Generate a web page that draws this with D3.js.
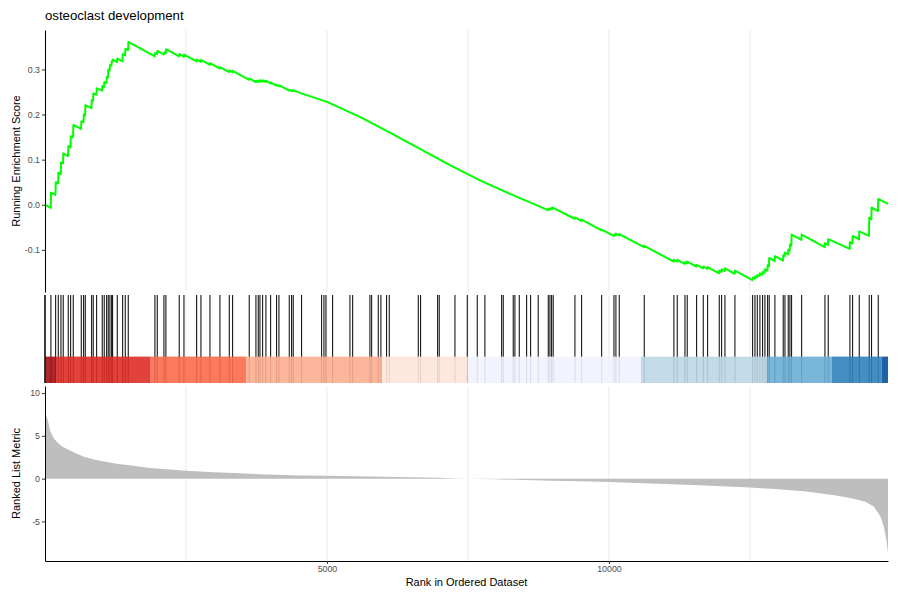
<!DOCTYPE html>
<html><head><meta charset="utf-8">
<script src="https://cdn.jsdelivr.net/npm/d3@7"></script>
<style>
body{margin:0;background:#fff}
svg{display:block}
text{font-family:"Liberation Sans",Arial,Helvetica,sans-serif}
</style>
</head><body>
<svg id="chart" width="900" height="600"></svg>
<script>
// ---------------- data ----------------
const chartTitle = "osteoclast development";
const yTitleTop = "Running Enrichment Score";
const yTitleBottom = "Ranked List Metric";
const xTitle = "Rank in Ordered Dataset";
const nGenes = 14948;

const xTickValues = [5000, 10000];
const xMinorGrid = [2500, 7500, 12500];
const esTickValues = [-0.1, 0.0, 0.1, 0.2, 0.3];
const metricTickValues = [-5, 0, 5, 10];

// running enrichment score (rank, value)
const esRank = [0,104,108,186,192,233,238,281,286,321,326,410,415,453,458,499,504,640,646,683,689,712,717,825,830,853,858,914,919,1013,1018,1048,1053,1091,1096,1119,1124,1149,1154,1180,1185,1197,1202,1279,1284,1375,1380,1421,1426,1474,1479,
  1948,1952,1989,1993,2108,2112,2143,2147,2379,2383,2463,2467,2688,2692,2764,2768,2924,2928,3101,3105,3266,3270,3326,3330,3620,3624,3739,3743,3780,3784,3810,3814,3858,3862,3916,3920,4000,4004,4106,4110,4147,4151,4330,4334,4372,4376,4400,4404,4521,
  5000,5585,6117,6649,7181,7713,8245,8777,8918,8924,8950,8956,8989,8993,9393,9397,9512,9516,9867,9871,10085,10089,10120,10124,10179,10183,10622,10626,
  11148,11152,11207,11211,11344,11348,11384,11388,11551,11555,11668,11672,11746,11750,11952,11956,11994,11998,12053,12057,12230,12234,12544,12548,12585,12589,12626,12630,12673,12677,12721,12725,12762,12766,12810,12814,12838,12842,12939,12943,
  13086,13090,13117,13121,13175,13179,13205,13209,13235,13239,13413,13417,13826,13830,13884,13888,14269,14273,14317,14321,14434,14438,14611,14615,14653,14657,14771,14775,14948];
const esValue = [0,-0.007,0.027,0.022,0.05,0.047,0.071,0.068,0.094,0.092,0.114,0.108,0.13,0.127,0.152,0.15,0.177,0.168,0.185,0.183,0.2,0.198,0.221,0.214,0.232,0.23,0.247,0.244,0.258,0.253,0.263,0.261,0.272,0.27,0.283,0.282,0.3,0.298,0.31,0.309,0.318,0.317,0.322,0.316,0.324,0.318,0.334,0.331,0.346,0.343,0.361,
  0.329,0.336,0.334,0.341,0.333,0.338,0.336,0.345,0.329,0.334,0.328,0.333,0.318,0.322,0.317,0.321,0.310,0.314,0.302,0.305,0.294,0.298,0.294,0.297,0.277,0.280,0.272,0.275,0.272,0.275,0.273,0.276,0.273,0.276,0.272,0.275,0.269,0.271,0.264,0.266,0.263,0.265,0.253,0.255,0.252,0.254,0.252,0.254,0.248,
  0.228,0.195,0.16,0.124,0.088,0.054,0.024,-0.004,-0.012,-0.009,-0.011,-0.008,-0.010,-0.006,-0.031,-0.028,-0.036,-0.033,-0.057,-0.055,-0.069,-0.066,-0.068,-0.064,-0.068,-0.065,-0.094,-0.091,
  -0.126,-0.122,-0.126,-0.122,-0.131,-0.127,-0.130,-0.126,-0.137,-0.133,-0.141,-0.137,-0.142,-0.138,-0.152,-0.146,-0.149,-0.143,-0.147,-0.141,-0.153,-0.146,-0.167,-0.162,-0.164,-0.159,-0.161,-0.156,-0.158,-0.152,-0.155,-0.149,-0.151,-0.143,-0.146,-0.134,-0.136,-0.118,-0.125,-0.114,
  -0.124,-0.112,-0.114,-0.106,-0.110,-0.100,-0.102,-0.088,-0.090,-0.066,-0.078,-0.066,-0.094,-0.085,-0.089,-0.076,-0.098,-0.083,-0.086,-0.069,-0.077,-0.059,-0.069,-0.029,-0.032,-0.006,-0.014,0.013,0.002];

// ranks of gene-set members (rug)
const hitRanks = [1,106,190,236,284,324,413,456,502,644,686,715,828,856,917,1016,1051,1094,1122,1152,1183,1200,1282,1378,1424,1477,1950,1991,2110,2145,2381,2465,2690,2766,2926,3103,3268,3328,3622,3741,3782,3812,3860,3918,4002,4108,4149,4332,4374,4402,4551,4906,4947,4982,5101,5408,5456,5762,5793,5910,5957,6058,6105,6619,6661,6963,6991,7270,7488,7665,7801,8098,8126,8303,8333,8410,8541,8612,8746,8924,8954,8984,9012,9397,9516,9871,10089,10124,10183,10626,11152,11211,11348,11388,11555,11672,11750,11956,11998,12057,12234,12548,12589,12630,12677,12725,12766,12814,12842,12943,13090,13121,13179,13209,13239,13417,13830,13888,14273,14321,14438,14615,14657,14775];

// colour band segments
const bandStart = [1,190,1875,3564,5970,7488,10567,12796,13948,14835];
const bandEnd   = [190,1875,3564,5970,7488,10567,12796,13948,14835,14948];
const bandColor = ["#A50F15","#DE2D26","#FB6A4A","#FCAE91","#FEE5D9","#EFF3FF","#BDD7E7","#6BAED6","#3182BD","#08519C"];

// ranked list metric (rank, value)
const metricRank = [1,15,60,90,150,207,300,384,500,680,800,975,1271,1566,1862,2158,2500,3000,3337,3800,4220,4521,5000,5500,6000,6500,7000,7300,7500,8000,8500,9000,9500,10000,10500,11000,11500,12000,12500,13000,13500,14000,14300,14550,14700,14820,14880,14920,14948];
const metricValue = [9.9,7.6,6.6,5.6,4.8,4.3,3.8,3.5,3.1,2.6,2.35,2.1,1.75,1.5,1.25,1.1,0.92,0.75,0.65,0.52,0.43,0.38,0.33,0.27,0.22,0.16,0.09,0.03,0.0,-0.08,-0.16,-0.24,-0.31,-0.39,-0.5,-0.62,-0.75,-0.9,-1.05,-1.25,-1.5,-1.93,-2.3,-2.7,-3.3,-4.5,-5.8,-7.2,-8.7];

// ---------------- drawing ----------------
const svg = d3.select("#chart");
const L = 45, R = 888;
const top1 = 30, bot1 = 292;     // running score panel
const top2 = 295, bot2 = 383;    // rug + band panel
const top3 = 386, bot3 = 561;    // ranked metric panel

const tickColor = "#333333", labelColor = "#4D4D4D", gridColor = "#EBEBEB";

const x = d3.scaleLinear().domain([1, nGenes]).range([L, R]);

function padded(vals){
  const lo = d3.min(vals), hi = d3.max(vals), r = hi - lo;
  return [lo - 0.05*r, hi + 0.05*r];
}
const yES = d3.scaleLinear().domain(padded(esValue)).range([bot1, top1]);
const yM = d3.scaleLinear().domain(padded(metricValue)).range([bot3, top3]);
const yRug = d3.scaleLinear().domain([0, 1]).range([bot2, top2]);

const gridVals = xTickValues.concat(xMinorGrid);
function grid(y0, y1){
  svg.append("g").selectAll("line").data(gridVals).join("line")
    .attr("x1", d => x(d)).attr("x2", d => x(d))
    .attr("y1", y0).attr("y2", y1)
    .attr("stroke", gridColor).attr("stroke-width", 1);
}
grid(top1, bot1); grid(top2, bot2); grid(top3, bot3);

// running ES line
const esData = esRank.map((r, i) => ({r, v: esValue[i]}));
svg.append("path").datum(esData)
  .attr("fill", "none").attr("stroke", "#00FF00").attr("stroke-width", 2)
  .attr("stroke-linejoin", "round")
  .attr("d", d3.line().x(d => x(d.r)).y(d => yES(d.v)));

// rug
svg.append("g").selectAll("line").data(hitRanks).join("line")
  .attr("x1", d => x(d)).attr("x2", d => x(d))
  .attr("y1", yRug(0)).attr("y2", yRug(1))
  .attr("stroke", "#000").attr("stroke-width", 1);

// colour band
const bandData = bandStart.map((s, i) => ({s, e: bandEnd[i], c: bandColor[i]}));
svg.append("g").selectAll("rect").data(bandData).join("rect")
  .attr("x", d => x(d.s)).attr("width", d => x(d.e) - x(d.s))
  .attr("y", yRug(0.3)).attr("height", yRug(0) - yRug(0.3))
  .attr("fill", d => d.c).attr("fill-opacity", 0.9);

// ranked list metric area
const mData = metricRank.map((r, i) => ({r, v: metricValue[i]}));
svg.append("path").datum(mData)
  .attr("fill", "#BEBEBE")
  .attr("d", d3.area().x(d => x(d.r)).y0(yM(0)).y1(d => yM(d.v)));

// axes
function styleAxis(g){
  g.select(".domain").attr("stroke", "#000").attr("stroke-width", 1.05);
  g.selectAll(".tick line").attr("stroke", tickColor).attr("stroke-width", 1);
  g.selectAll(".tick text").attr("fill", labelColor).style("font-size", "8.8px")
    .style("font-family", '"Liberation Sans",Arial,sans-serif');
}
svg.append("g").attr("transform", `translate(${L},0)`)
  .call(d3.axisLeft(yES).tickValues(esTickValues).tickFormat(d => d.toFixed(1))
    .tickSizeInner(3).tickSizeOuter(0).tickPadding(2))
  .call(styleAxis);

// rug panel left axis line
svg.append("line").attr("x1", L).attr("x2", L).attr("y1", top2).attr("y2", bot2)
  .attr("stroke", "#000").attr("stroke-width", 1.05);

svg.append("g").attr("transform", `translate(${L},0)`)
  .call(d3.axisLeft(yM).tickValues(metricTickValues).tickFormat(d => String(d))
    .tickSizeInner(3).tickSizeOuter(0).tickPadding(2))
  .call(styleAxis);

svg.append("g").attr("transform", `translate(0,${bot3})`)
  .call(d3.axisBottom(x).tickValues(xTickValues).tickFormat(d3.format("d"))
    .tickSizeInner(3).tickSizeOuter(0).tickPadding(2))
  .call(styleAxis);

// titles
svg.append("text").attr("x", L).attr("y", 20).attr("fill", "#000")
  .style("font-size", "13.2px").text(chartTitle);
svg.append("text").attr("transform", `translate(20,${(top1+bot1)/2}) rotate(-90)`)
  .attr("text-anchor", "middle").attr("fill", "#000").style("font-size", "11px").text(yTitleTop);
svg.append("text").attr("transform", `translate(20,${(top3+bot3)/2}) rotate(-90)`)
  .attr("text-anchor", "middle").attr("fill", "#000").style("font-size", "11px").text(yTitleBottom);
svg.append("text").attr("x", (L+R)/2).attr("y", 586).attr("text-anchor", "middle")
  .attr("fill", "#000").style("font-size", "11px").text(xTitle);
</script>
</body></html>
